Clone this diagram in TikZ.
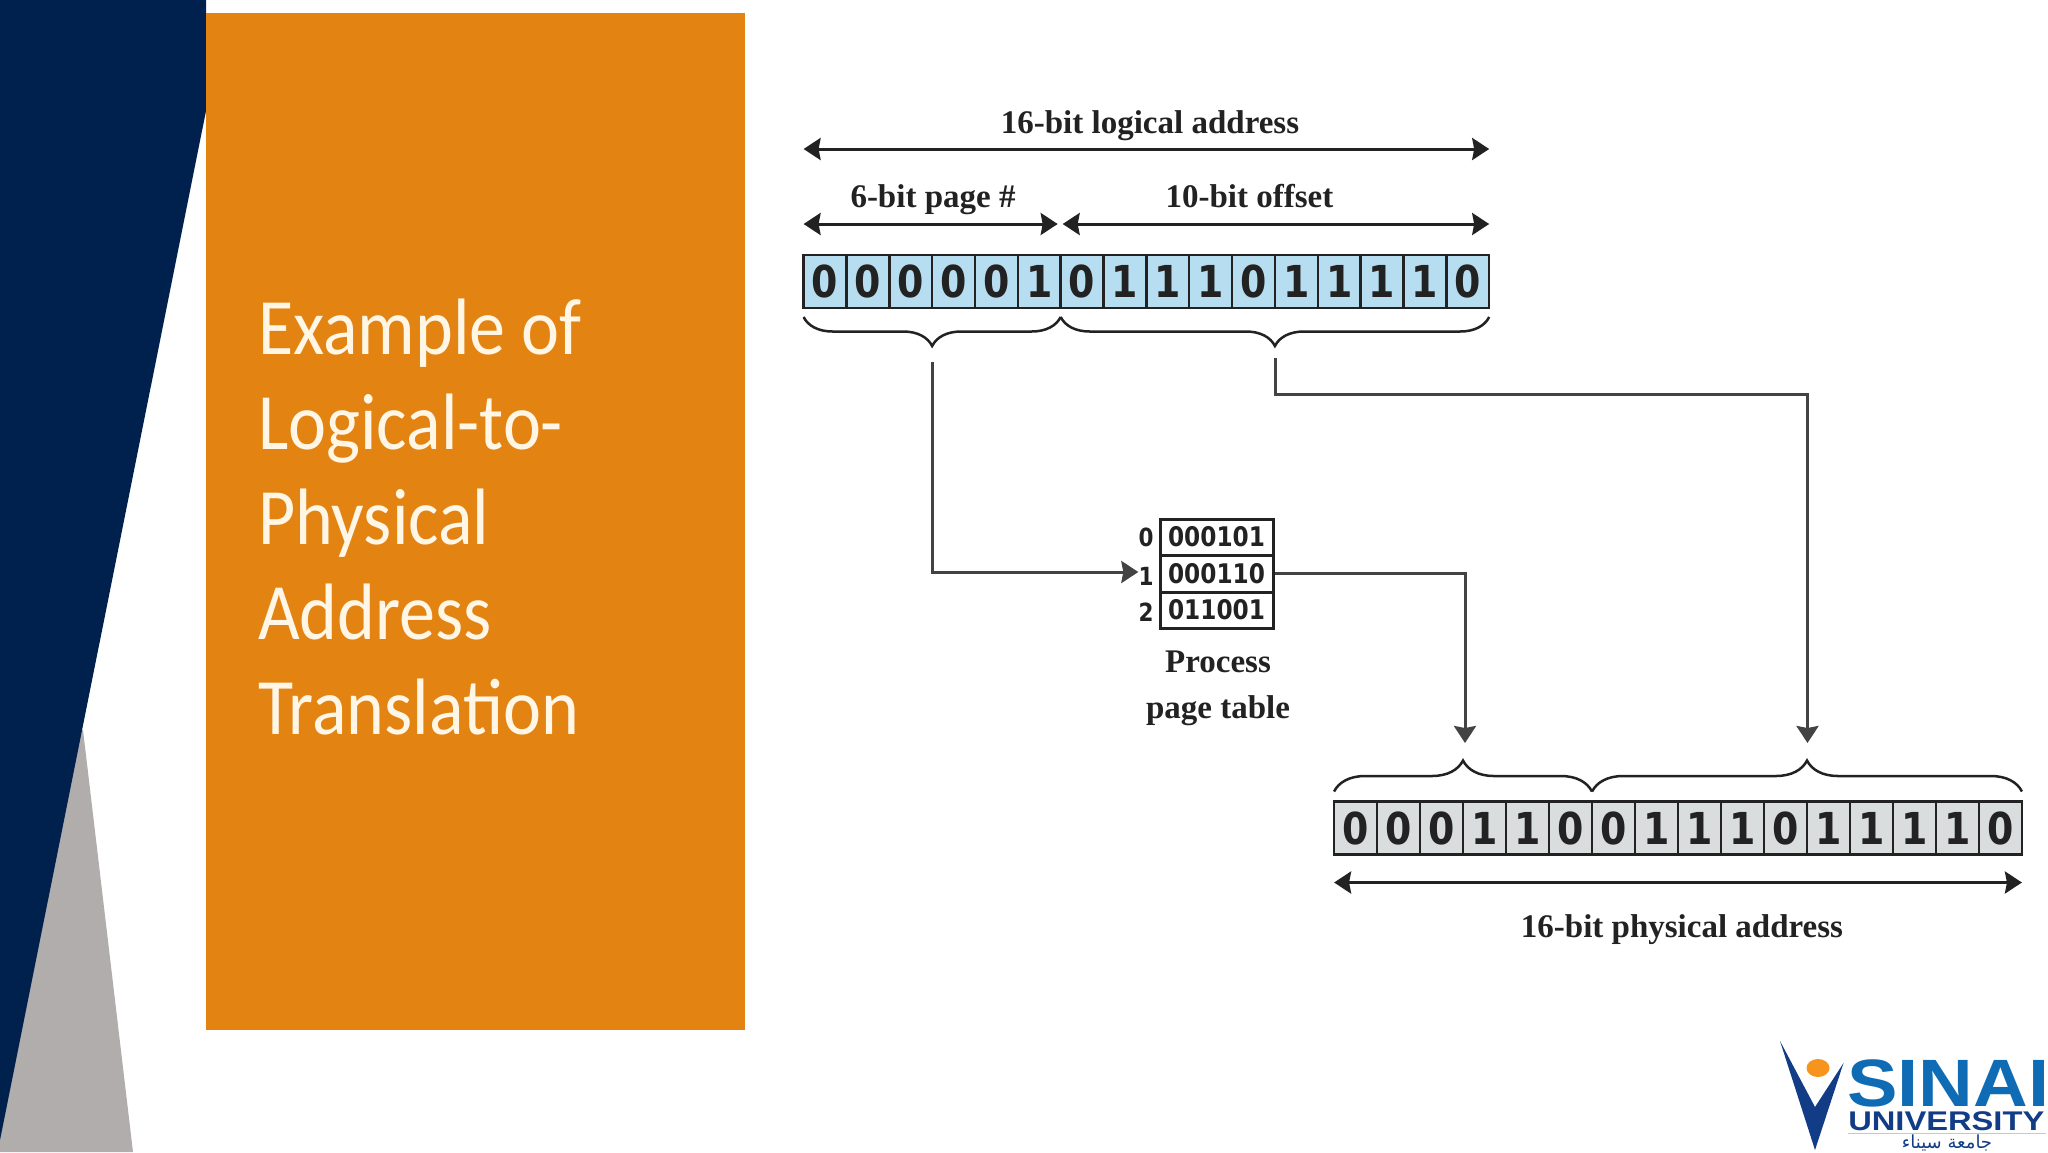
\documentclass[tikz,border=0pt]{standalone}
\usepackage{fontspec}
\usetikzlibrary{arrows.meta,decorations.pathreplacing}
\TeXXeTstate=1
\setmainfont{Liberation Serif}
\newfontfamily\titlefont{Carlito}
\newfontfamily\digitfont[FakeStretch=0.86]{DejaVu Sans}
\newfontfamily\logofont{Liberation Sans}
\newfontfamily\arabicfont[Script=Arabic]{DejaVu Sans}
\definecolor{navy}{HTML}{00214D}
\definecolor{slate}{HTML}{B0ADAC}
\definecolor{panel}{HTML}{E38312}
\definecolor{cream}{HTML}{FFF6E6}
\definecolor{logiccell}{HTML}{B7DDF0}
\definecolor{physcell}{HTML}{D9DDDE}
\definecolor{ink}{HTML}{222222}
\definecolor{sinaiblue}{HTML}{0F6CB4}
\definecolor{unidark}{HTML}{123C86}
\definecolor{logogold}{HTML}{F7941D}
\tikzset{
    cell/.style={draw=ink, line width=2.5pt, minimum width=42.85pt, minimum height=53pt, inner sep=0pt, outer sep=0pt, font=\digitfont\bfseries\fontsize{44}{44}\selectfont, text=ink},
    tablerow/.style={draw=ink, line width=3pt, minimum width=113pt, inner sep=0pt, outer sep=0pt, font=\digitfont\bfseries\fontsize{27}{27}\selectfont, text=ink},
    index/.style={inner sep=0pt, font=\digitfont\bfseries\fontsize{25}{25}\selectfont, text=ink},
    caption/.style={anchor=base, inner sep=0pt, text=ink, font=\bfseries\fontsize{33}{33}\selectfont},
    dim/.style={<->, line width=3pt, draw=ink},
    link/.style={->, line width=3pt, draw=ink!85},
    curly/.style={line width=2.5pt, draw=ink, decorate, decoration={brace, amplitude=29pt, mirror}},
    curlyup/.style={line width=2.5pt, draw=ink, decorate, decoration={brace, amplitude=31pt}}
}
\begin{document}
\begin{tikzpicture}[x=1pt, y=-1pt, >={Stealth[length=17pt, width=22pt, inset=2pt]}]
        \useasboundingbox (0,0) rectangle (2048,1152);
        \fill[white] (0,0) rectangle (2048,1152);
        % side panel
        \fill[slate] (83,730) -- (133,1152) -- (0,1152) -- (0,730) -- cycle;
        \fill[navy] (0,0) -- (206,0) -- (206,111) -- (0,1140) -- cycle;
        \fill[panel] (206,13) rectangle (745,1030);
        \node[anchor=north west, align=left, inner sep=0pt, xscale=0.9, text=cream, font=\titlefont\fontsize{80}{95}\selectfont] (title) at (258,299) {Example of\\Logical-to-\\Physical\\Address\\Translation};

        % logical address
        \foreach \bit [count=\i from 0] in {0,0,0,0,0,1,0,1,1,1,0,1,1,1,1,0}
            \node[cell, fill=logiccell] (l\i) at ({825+42.85*\i},281.5) {\bit};
        \foreach \bit [count=\i from 0] in {0,0,0,1,1,0,0,1,1,1,0,1,1,1,1,0}
            \node[cell, fill=physcell] (p\i) at ({1355.5+43*\i},828) {\bit};

        \draw[dim] ([yshift=106pt]l0.north west) -- ([yshift=106pt]l15.north east);
        \draw[dim] ([yshift=31pt]l0.north west) -- ([yshift=31pt,xshift=-3pt]l5.north east);
        \draw[dim] ([yshift=31pt,xshift=2pt]l6.north west) -- ([yshift=31pt]l15.north east);
        \node[caption] (logical) at (1150,133) {16-bit logical address};
        \node[caption] (pagebits) at (933,207) {6-bit page \#};
        \node[caption] (offsetbits) at (1249.5,207) {10-bit offset};

        \draw[curly] ([yshift=-9pt]l0.south west) -- ([yshift=-9pt]l5.south east);
        \draw[curly] ([yshift=-9pt]l6.south west) -- ([yshift=-9pt]l15.south east);
        \coordinate (pagestart) at (932,362);
        \coordinate (offsetstart) at (1275,358);

        % page table
        \node[tablerow, minimum height=36pt] (row0) at (1216.5,537) {000101};
        \node[tablerow, minimum height=37pt] (row1) at (1216.5,573.5) {000110};
        \node[tablerow, minimum height=36pt] (row2) at (1216.5,610) {011001};
        \node[index] (idx0) at (1146,537) {0};
        \node[index] (idx1) at (1146,576) {1};
        \node[index] (idx2) at (1146,612) {2};
        \node[caption] (process) at (1218,672) {Process};
        \node[caption] (pagetable) at (1218,718) {page table};

        % physical address
        \draw[curlyup] ([yshift=10pt]p0.north west) -- ([yshift=10pt]p5.north east);
        \draw[curlyup] ([yshift=10pt]p6.north west) -- ([yshift=10pt]p15.north east);
        \coordinate (framehit) at (1465,743);
        \coordinate (offsethit) at (1807.5,743);
        \draw[dim] ([yshift=-28pt]p0.south west) -- ([yshift=-28pt]p15.south east);
        \node[caption] (physical) at (1682,937) {16-bit physical address};

        \draw[link] (pagestart) |- ([yshift=4pt]idx1.west);
        \draw[link] ([xshift=2pt]row1.east) -| (framehit);
        \draw[link] (offsetstart) |- (1807.5,394) -- (offsethit);

        % logo
        \fill[unidark] (1780,1041) -- (1815,1107) -- (1843.5,1063) -- (1815,1150) -- cycle;
        \fill[logogold] (1818,1068) ellipse (11.5 and 9);
        \node[anchor=base west, inner sep=0pt, xscale=1.13, text=sinaiblue, font=\logofont\bfseries\fontsize{67}{67}\selectfont] (sinai) at (1847,1106) {SINAI};
        \node[anchor=base west, inner sep=0pt, xscale=1.21, text=unidark, font=\logofont\bfseries\fontsize{27}{27}\selectfont] (university) at (1848,1130) {UNIVERSITY};
        \draw[logogold!60, line width=1pt] (1848,1133) -- (2046,1133);
        \node[inner sep=0pt, text=unidark, font=\arabicfont\fontsize{18}{18}\selectfont] (arabic) at (1947,1143) {\beginR جامعة سيناء\endR};
\end{tikzpicture}
\end{document}
